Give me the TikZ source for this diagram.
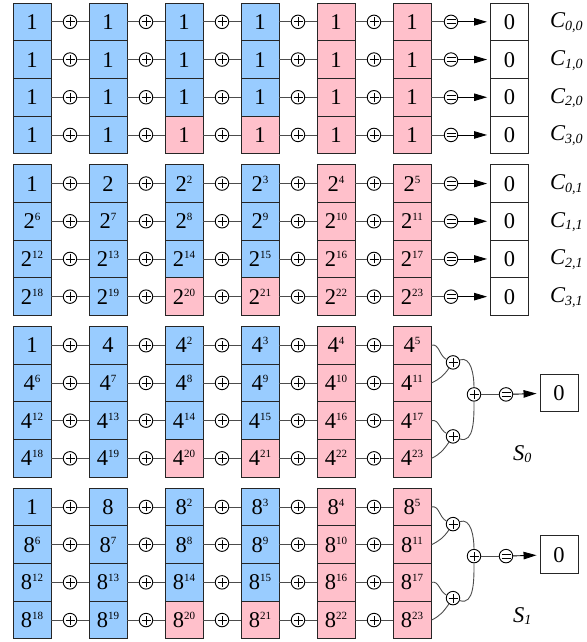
\documentclass[tikz,border=0pt]{standalone}
\usepackage{fontspec}
\setmainfont{Liberation Serif}
\usetikzlibrary{arrows.meta}
\definecolor{cellblue}{RGB}{153,204,255}
\definecolor{cellpink}{RGB}{255,192,203}
% power with a small raised exponent
\newcommand\pw[2]{#1\raisebox{8pt}{\fontsize{11}{11}\selectfont #2}}
% italic symbol with an italic lowered index
\newcommand\idx[2]{{\itshape #1}\raisebox{-2.5pt}{\fontsize{14}{14}\selectfont\itshape #2}}

\begin{document}
\begin{tikzpicture}[x=1pt,y=-1pt,
  cell/.style={draw=black!85,line width=0.9pt,minimum width=38pt,minimum height=37.7pt,
    inner sep=0pt,text height=15pt,text depth=0pt,font=\fontsize{22.5}{26}\selectfont},
  conn/.style={draw=black!70,line width=0.9pt},
  opplus/.style={circle,draw=black,line width=0.9pt,minimum size=13.5pt,inner sep=0pt,
    path picture={\draw[line width=0.9pt]
      ([xshift=-4.5pt]path picture bounding box.center) -- ([xshift=4.5pt]path picture bounding box.center)
      ([yshift=-4.5pt]path picture bounding box.center) -- ([yshift=4.5pt]path picture bounding box.center);}},
  opeq/.style={circle,draw=black,line width=0.9pt,minimum size=13.5pt,inner sep=0pt,
    path picture={\draw[line width=0.9pt]
      ([xshift=-4.5pt,yshift=-1.9pt]path picture bounding box.center) -- ([xshift=4.5pt,yshift=-1.9pt]path picture bounding box.center)
      ([xshift=-4.5pt,yshift=1.9pt]path picture bounding box.center) -- ([xshift=4.5pt,yshift=1.9pt]path picture bounding box.center);}},
  res/.style={-{Triangle[length=13pt,width=7.5pt]},draw=black,line width=0.9pt,shorten >=3pt},
  lbl/.style={anchor=base west,inner sep=0pt,font=\fontsize{22.5}{26}\selectfont}
]
\useasboundingbox (0,0) rectangle (586,642);

% the four blocks of cells
\foreach \g in {0,...,3} {
  \foreach \r in {0,...,3} {
    \pgfmathsetmacro\yc{3+161.7*\g+18.85+37.7*\r}
    \foreach \c in {0,...,5} {
      \pgfmathtruncatemacro\e{6*\r+\c}
      \pgfmathtruncatemacro\b{2^\g}
      \pgfmathtruncatemacro\pk{(\c>3)||((\r==3)&&(\c>1))}
      \ifnum\pk=1 \def\fc{cellpink}\else\def\fc{cellblue}\fi
      \node[cell,fill=\fc] (n\g-\r-\c) at (32+76*\c,\yc)
        {\ifnum\g=0 1\else\ifnum\e=0 1\else\ifnum\e=1 \b\else\pw{\b}{\e}\fi\fi\fi};
    }
    % xor operators between neighbouring cells
    \foreach \c in {0,...,4} {
      \pgfmathtruncatemacro\cn{\c+1}
      \node[opplus] (p\g-\r-\c) at (70+76*\c,\yc) {};
      \draw[conn] (n\g-\r-\c) -- (p\g-\r-\c) -- (n\g-\r-\cn);
    }
  }
}

% per-row checks for the first two blocks
\foreach \g in {0,1} {
  \foreach \r in {0,...,3} {
    \pgfmathsetmacro\yc{3+161.7*\g+18.85+37.7*\r}
    \node[opeq] (e\g-\r) at (451,\yc) {};
    \node[cell,fill=white] (z\g-\r) at (509.5,\yc) {0};
    \draw[conn] (n\g-\r-5) -- (e\g-\r);
    \draw[res] (e\g-\r) -- (z\g-\r);
    \node[lbl] (c\g-\r) at (550,\yc+6) {\idx{C}{\r,\g}};
  }
}

% column sums for the last two blocks
\foreach \g/\s in {2/0,3/1} {
  \pgfmathsetmacro\T{3+161.7*\g}
  \node[opplus] (ta\g) at (453,\T+36) {};
  \node[opplus] (tb\g) at (474,\T+68) {};
  \node[opplus] (tc\g) at (453,\T+110) {};
  \node[opeq] (te\g) at (506,\T+68) {};
  \node[cell,fill=white] (tz\g) at (559,\T+66.5) {0};
  \draw[conn] (n\g-0-5.east) to[out=15,in=155] (ta\g);
  \draw[conn] (n\g-1-5.east) to[out=25,in=-125] (ta\g);
  \draw[conn] (n\g-2-5.east) to[out=15,in=155] (tc\g);
  \draw[conn] (n\g-3-5.east) to[out=25,in=-125] (tc\g);
  \draw[conn] (ta\g) to[out=20,in=90] (tb\g);
  \draw[conn] (tc\g) to[out=-20,in=-90] (tb\g);
  \draw[conn] (tb\g) -- (te\g);
  \draw[res] (te\g) -- (tz\g);
  \node[lbl] (s\g) at (513,\T+134) {\idx{S}{\s}};
}
\end{tikzpicture}
\end{document}
